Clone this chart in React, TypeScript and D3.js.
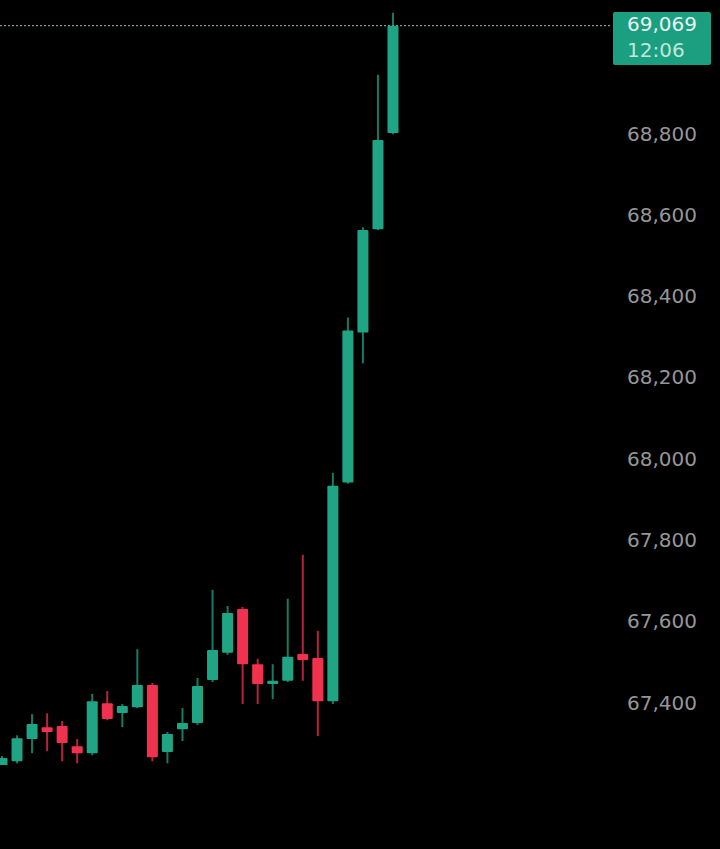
import React from "react";
import * as d3 from "d3";

const opens = [67235, 67259, 67314, 67343, 67346, 67296, 67279, 67402, 67378, 67392, 67447, 67282, 67338, 67353, 67459, 67526, 67634, 67498, 67449, 67457, 67523, 67513, 67407, 67945, 68314, 68568, 68805];
const closes = [67267, 67316, 67351, 67331, 67304, 67279, 67407, 67363, 67395, 67447, 67269, 67326, 67353, 67444, 67533, 67624, 67498, 67449, 67457, 67516, 67508, 67407, 67937, 68319, 68566, 68788, 69069];
const highs = [67272, 67323, 67375, 67377, 67358, 67314, 67425, 67432, 67400, 67535, 67452, 67331, 67390, 67464, 67681, 67641, 67639, 67511, 67498, 67659, 67767, 67580, 67969, 68351, 68573, 68948, 69101];
const lows = [67222, 67254, 67279, 67284, 67259, 67254, 67274, 67360, 67343, 67390, 67259, 67254, 67309, 67348, 67454, 67521, 67400, 67400, 67412, 67454, 67457, 67321, 67400, 67942, 68238, 68566, 68802];
const yTicks = [67400, 67600, 67800, 68000, 68200, 68400, 68600, 68800];
const lastPrice = 69069;
const lastTime = "12:06";

const W = 720;
const H = 849;
const GREEN = "#1fa584";
const RED = "#f0324f";

export default function App() {
  const y = d3.scaleLinear().domain([67400, 68800]).range([704, 135]);
  const x = d3.scaleLinear().domain([0, opens.length - 1]).range([2, 393]);
  const bw = 11;
  const fmt = d3.format(",");
  const candles = opens.map((o, i) => ({ o, c: closes[i], h: highs[i], l: lows[i], i }));
  const py = y(lastPrice);
  return (
    <svg
      width={W}
      height={H}
      style={{ position: "absolute", left: 0, top: 0, background: "#000", display: "block" }}
    >
      <rect x={0} y={0} width={W} height={H} fill="#000" />
      <defs>
        <clipPath id="plot">
          <rect x={0} y={0} width={612} height={765} />
        </clipPath>
      </defs>
      <line x1={0} x2={612} y1={py} y2={py} stroke="#7d9e96" strokeWidth={1.2} strokeDasharray="2 2" />
      <g clipPath="url(#plot)">
        {candles.map((d) => {
          const up = d.c >= d.o;
          const col = up ? GREEN : RED;
          const cx = x(d.i);
          const top = y(Math.max(d.o, d.c));
          const bot = y(Math.min(d.o, d.c));
          return (
            <g key={d.i}>
              <line x1={cx} x2={cx} y1={y(d.h)} y2={y(d.l)} stroke={col} strokeWidth={2} opacity={0.75} />
              <rect x={cx - bw / 2} y={top} width={bw} height={Math.max(bot - top, 2)} fill={col} rx={1} />
            </g>
          );
        })}
      </g>
      <g fontFamily="DejaVu Sans, sans-serif" fontSize={20} fill="#969696">
        {yTicks.map((t) => (
          <text key={t} x={627} y={y(t)} dominantBaseline="middle">
            {fmt(t)}
          </text>
        ))}
      </g>
      <rect x={613} y={12} width={98} height={53} fill="#1b9f80" rx={2} />
      <text x={627} y={py} dominantBaseline="middle" fontFamily="DejaVu Sans, sans-serif" fontSize={20} fill="#e6f5f0">
        {fmt(lastPrice)}
      </text>
      <text x={627} y={51} dominantBaseline="middle" fontFamily="DejaVu Sans, sans-serif" fontSize={20} fill="#bfe6da">
        {lastTime}
      </text>
    </svg>
  );
}
